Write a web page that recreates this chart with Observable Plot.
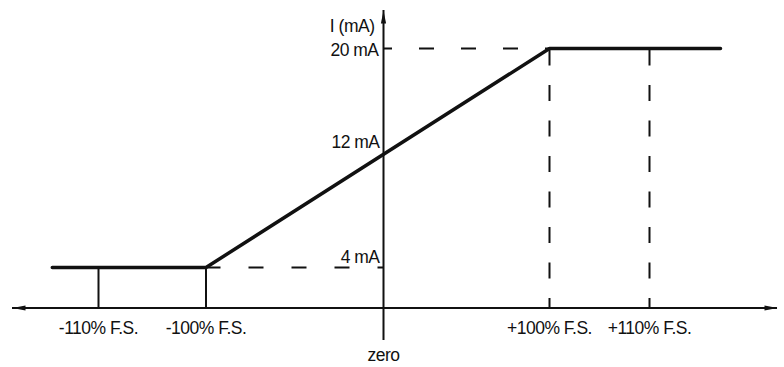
<!DOCTYPE html>
<html>
<head>
<meta charset="utf-8">
<script src="https://cdn.jsdelivr.net/npm/d3@7"></script>
<script src="https://cdn.jsdelivr.net/npm/@observablehq/plot@0.6"></script>
<style>
  html, body { margin: 0; padding: 0; background: #fff; }
  #chart { width: 784px; height: 367px; }
  #chart svg text { letter-spacing: -0.5px; }
</style>
</head>
<body>
<div id="chart"></div>
<script>
// ---- data ----
const xTickValues = [-110, -100, 100, 110];
const xTickLabels = ["-110% F.S.", "-100% F.S.", "+100% F.S.", "+110% F.S."];
const yTickValues = [4, 12, 20];
const yTickLabels = ["4 mA", "12 mA", "20 mA"];
const curveX = [-114.3, -100, 100, 117.1];
const curveY = [4, 4, 20, 20];
const yAxisTitle = "I (mA)";
const zeroLabel = "zero";

const curve = curveX.map((x, i) => ({x, y: curveY[i]}));
const yTicks = yTickValues.map((v, i) => ({v, label: yTickLabels[i]}));

// narrow filled arrow head, tip at origin pointing up
const arrowHead = {
  draw(ctx) {
    ctx.moveTo(0, 0);
    ctx.lineTo(-2.6, 13);
    ctx.lineTo(2.6, 13);
    ctx.closePath();
  }
};

const font = "Liberation Sans, Arial, Helvetica, sans-serif";
const fs = 17.5;
const ink = "#111";

const chart = Plot.plot({
  width: 784,
  height: 367,
  marginLeft: 12,
  marginRight: 7,
  marginTop: 10,
  marginBottom: 27,
  style: {background: "#fff", color: ink, fontFamily: font, fontSize: fs + "px"},
  x: {type: "linear", domain: [-110, -100, 0, 100, 110], range: [98, 205.5, 383, 549, 649], axis: null},
  y: {type: "linear", domain: [0, 4, 12, 20], range: [307.5, 267, 152, 48], axis: null},
  marks: [
    // dashed guides
    Plot.ruleY([4], {x1: -100, x2: 0, stroke: ink, strokeWidth: 2, strokeDasharray: "15,28"}),
    Plot.ruleY([20], {x1: 0, x2: 100, stroke: ink, strokeWidth: 2, strokeDasharray: "15,27", strokeDashoffset: 6}),
    Plot.ruleX([100, 110], {y1: 0, y2: 20, stroke: ink, strokeWidth: 2, strokeDasharray: "16,19.5", strokeDashoffset: 6.5}),
    // solid thin verticals at negative limits
    Plot.ruleX([-110, -100], {y1: 0, y2: 4, stroke: ink, strokeWidth: 2}),
    // axes
    Plot.ruleY([0], {stroke: ink, strokeWidth: 2}),
    Plot.ruleX([0], {stroke: ink, strokeWidth: 2}),
    Plot.dotY([0], {y: d => d, frameAnchor: "left", symbol: arrowHead, rotate: -90, fill: ink, stroke: "none"}),
    Plot.dotY([0], {y: d => d, frameAnchor: "right", symbol: arrowHead, rotate: 90, fill: ink, stroke: "none"}),
    Plot.dotX([0], {x: d => d, frameAnchor: "top", symbol: arrowHead, rotate: 0, fill: ink, stroke: "none"}),
    // transfer curve
    Plot.line(curve, {x: "x", y: "y", stroke: ink, strokeWidth: 3.5, strokeLinejoin: "miter"}),
    // x tick labels
    Plot.text(xTickValues, {x: d => d, y: () => 0, text: (d, i) => xTickLabels[i], dy: 20, fontSize: fs, fill: ink}),
    Plot.text([zeroLabel], {x: () => 0, y: () => 0, text: d => d, dy: 47, fontSize: fs, fill: ink}),
    // y tick labels
    Plot.text(yTicks.filter(d => d.v === 20), {x: () => 0, y: "v", text: "label", textAnchor: "end", dx: -5, dy: 1.5, fontSize: fs, fill: ink}),
    Plot.text(yTicks.filter(d => d.v !== 20), {x: () => 0, y: "v", text: "label", textAnchor: "end", dx: -4, dy: -10, fontSize: fs, fill: ink}),
    // y axis title
    Plot.text([yAxisTitle], {x: () => 0, frameAnchor: "top", text: d => d, textAnchor: "end", dx: -9, dy: 9.5, fontSize: fs, fill: ink})
  ]
});

document.getElementById("chart").appendChild(chart);
</script>
</body>
</html>
